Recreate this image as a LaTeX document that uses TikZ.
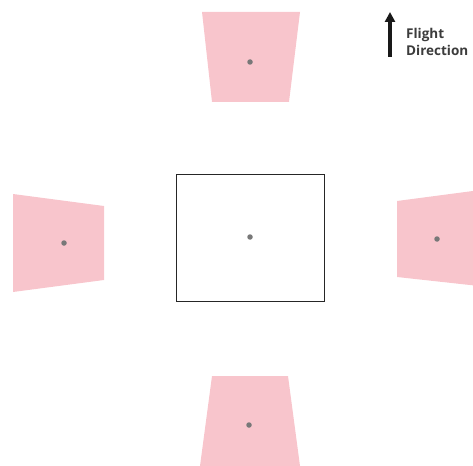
\documentclass[tikz,border=0pt]{standalone}
\usepackage{fontspec}
\setmainfont{Open Sans}
\usepackage{xcolor}
\definecolor{footpink}{RGB}{248,197,204}
\definecolor{dotgrey}{RGB}{120,120,120}
\definecolor{labelgrey}{RGB}{60,60,60}
\usetikzlibrary{arrows.meta}

\begin{document}
\begin{tikzpicture}[
    x=1pt, y=-1pt,
    footprint/.style={fill=footpink, draw=none},
    centredot/.style={circle, fill=dotgrey, inner sep=0pt, minimum size=5.5pt},
    frame/.style={rectangle, draw=black!85, line width=0.9pt, fill=white,
                  minimum width=148pt, minimum height=127pt, inner sep=0pt},
    flightarr/.style={-{Triangle[length=10pt, width=10pt]}, line width=4.5pt, black!90},
]
\useasboundingbox (0,0) rectangle (473,465);
\clip (0,0) rectangle (473,465);

% oblique footprints
\fill[footprint] (202,12) -- (300,12) -- (289,102) -- (212,102) -- cycle;
\fill[footprint] (13,194) -- (104,206) -- (104,280) -- (13,292) -- cycle;
\fill[footprint] (397,201) -- (488,189) -- (488,287) -- (397,277) -- cycle;
\fill[footprint] (212,376) -- (288,376) -- (300,466) -- (200,466) -- cycle;

% nadir footprint
\node[frame] (nadir) at (250,237.5) {};

\node[centredot] (cnadir) at (250,237) {};
\node[centredot] (cfwd) at (250,62) {};
\node[centredot] (cleft) at (64,243) {};
\node[centredot] (cright) at (437,239) {};
\node[centredot] (caft) at (249,425) {};

% flight direction
\coordinate (arrtail) at (390,57);
\coordinate (arrtip) at (390,12);
\draw[flightarr] (arrtail) -- (arrtip);
\node[anchor=north west, align=left, inner sep=0pt, text=labelgrey,
      font=\bfseries\fontsize{13.5}{17}\selectfont] (flightlbl) at (406,28) {Flight\\Direction};

\end{tikzpicture}
\end{document}
